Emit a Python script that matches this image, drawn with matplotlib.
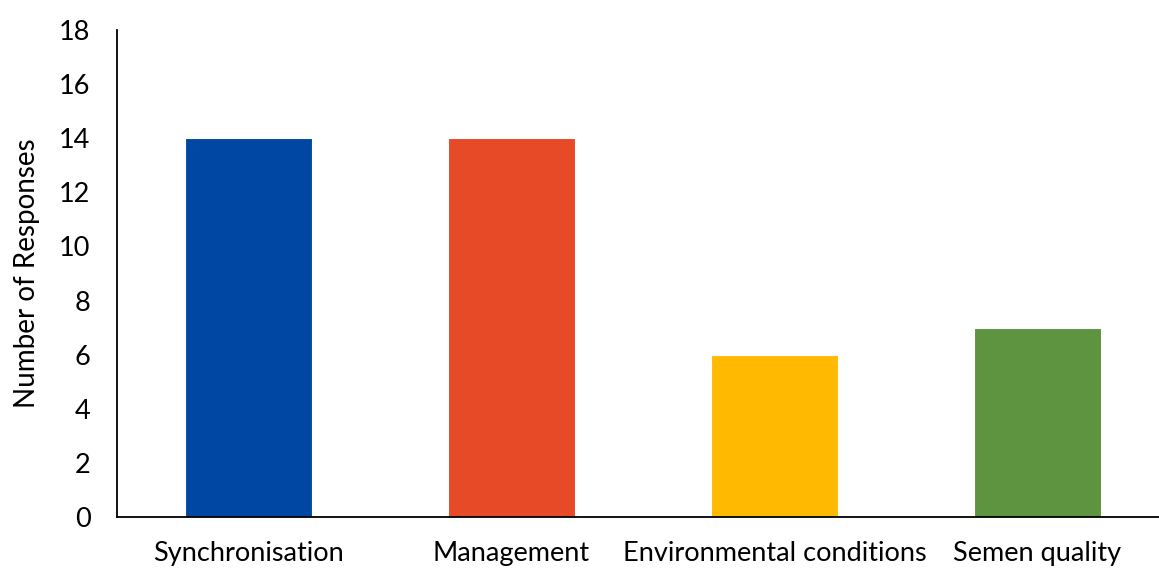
import matplotlib
matplotlib.use("Agg")
import matplotlib.pyplot as plt

categories = ["Synchronisation", "Management", "Environmental conditions", "Semen quality"]
responses = [14, 14, 6, 7]
bar_colors = ["#0047A3", "#E64A27", "#FFB900", "#5E9340"]
y_ticks = [0, 2, 4, 6, 8, 10, 12, 14, 16, 18]

plt.rcParams["font.family"] = ["Lato", "DejaVu Sans"]

fig = plt.figure(figsize=(11.59, 5.68), dpi=100)
ax = fig.add_axes([117 / 1159, 51 / 568, 1042 / 1159, 487 / 568])

x = list(range(len(categories)))
ax.bar(x, responses, width=0.485, color=bar_colors, edgecolor="white", linewidth=0.8)

ax.set_xlim(-0.5, -0.5 + 1042 / 263)
ax.set_ylim(0, 18)
ax.set_yticks(y_ticks)
ax.set_xticks(x)
ax.set_xticklabels(categories)
ax.tick_params(axis="both", length=0, labelsize=19.5)
ax.tick_params(axis="x", pad=17)
ax.tick_params(axis="y", pad=19)
ax.set_ylabel("Number of Responses", fontsize=20, labelpad=14)

for side in ("top", "right"):
    ax.spines[side].set_visible(False)
for side in ("left", "bottom"):
    ax.spines[side].set_linewidth(1.3)
    ax.spines[side].set_color("black")

fig.savefig("out.png", dpi=100)
plt.close(fig)
